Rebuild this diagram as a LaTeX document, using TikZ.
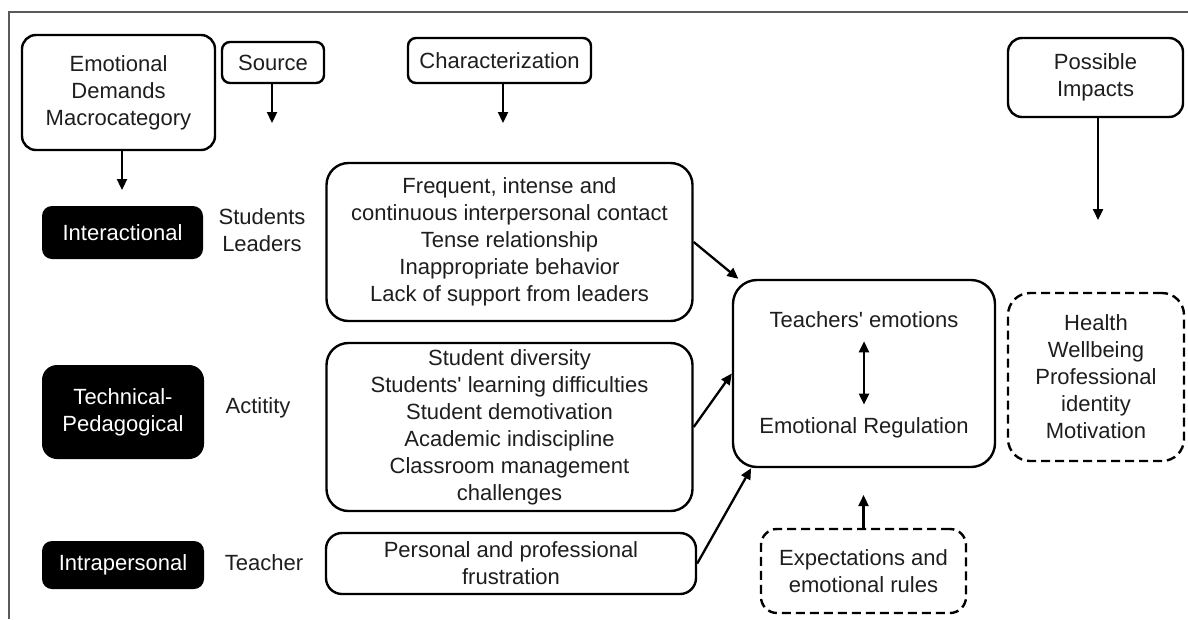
\documentclass[tikz,border=0pt]{standalone}
\usepackage{fontspec}
\setmainfont{Liberation Sans}
\usetikzlibrary{arrows.meta}
\definecolor{ink}{HTML}{1E1E1E}
\definecolor{framegray}{HTML}{5A5A5A}
\begin{document}
\begin{tikzpicture}[x=1pt,y=-1pt,
  every node/.style={font=\fontsize{22}{27}\selectfont, text=ink, align=center, inner sep=0pt},
  box/.style={draw=black, line width=2.4pt, rounded corners=14pt},
  darkbox/.style={fill=black, text=white, rounded corners=10pt},
  dbox/.style={box, dash pattern=on 9pt off 5pt},
  arr/.style={line width=2.3pt, -{Triangle[length=11pt,width=10pt]}},
  biarr/.style={line width=2.3pt, {Triangle[length=11pt,width=10pt]}-{Triangle[length=11pt,width=10pt]}}
]
\useasboundingbox (0,0) rectangle (1188,619);
\fill[white] (0,0) rectangle (1188,619);

% frame lines
\draw[framegray, line width=2pt] (9,619) -- (9,12) -- (1188,12);

% column headers
\node[box, minimum width=193pt, minimum height=115pt] (macro) at (118.5,92.5)
  {Emotional\\Demands\\Macrocategory};
\node[box, rounded corners=8pt, minimum width=102pt, minimum height=41pt] (source) at (273,62.5) {Source};
\node[box, rounded corners=8pt, minimum width=183pt, minimum height=45pt] (charac) at (499.5,60.5) {Characterization};
\node[box, minimum width=175pt, minimum height=79pt] (impacts) at (1095.5,77.5) {Possible\\Impacts};

\coordinate (macroEnd) at (122,190);
\coordinate (sourceEnd) at (272,123);
\coordinate (characEnd) at (503,123);
\coordinate (impactsEnd) at (1098,220);
\draw[arr] (macro.south -| macroEnd) -- (macroEnd);
\draw[arr] (source.south -| sourceEnd) -- (sourceEnd);
\draw[arr] (charac.south -| characEnd) -- (characEnd);
\draw[arr] (impacts.south -| impactsEnd) -- (impactsEnd);

% macrocategories
\node[darkbox, minimum width=161pt, minimum height=53pt] (inter) at (122.5,232.5) {Interactional};
\node[darkbox, rounded corners=15pt, minimum width=162pt, minimum height=94pt] (tech) at (123,412) {Technical-\\Pedagogical};
\node[darkbox, minimum width=162pt, minimum height=48pt] (intra) at (123,565) {Intrapersonal};

% sources
\node (srcA) at (262,230) {Students\\Leaders};
\node (srcB) at (258,408) {Actitity};
\node (srcC) at (264,563) {Teacher};

% characterizations
\node[box, rounded corners=22pt, minimum width=366pt, minimum height=158pt] (ch1) at (509.5,242)
  {Frequent, intense and\\continuous interpersonal contact\\Tense relationship\\Inappropriate behavior\\Lack of support from leaders};
\node[box, rounded corners=22pt, minimum width=366pt, minimum height=168pt] (ch2) at (509.5,427)
  {Student diversity\\Students\textquotesingle{} learning difficulties\\Student demotivation\\Academic indiscipline\\Classroom management\\challenges};
\node[box, rounded corners=16pt, minimum width=370pt, minimum height=61pt] (ch3) at (511,563.5)
  {Personal and professional\\frustration};

% central box
\node[box, rounded corners=24pt, minimum width=262pt, minimum height=187pt] (core) at (864,373.5) {};
\node (emo) at (864,320) {Teachers\textquotesingle{} emotions};
\node (reg) at (864,428) {Emotional Regulation};
\draw[biarr, shorten <=13pt, shorten >=13pt] (emo.south) -- (reg.north);

% impacts and rules
\node[dbox, rounded corners=22pt, minimum width=176pt, minimum height=168pt] (health) at (1096,377)
  {Health\\Wellbeing\\Professional\\identity\\Motivation};
\node[dbox, rounded corners=16pt, minimum width=205pt, minimum height=84pt] (rules) at (863.5,571)
  {Expectations and\\emotional rules};
\coordinate (rulesEnd) at (863.5,495);
\draw[arr] (rules.north) -- (rulesEnd);

% links into the central box
\draw[arr] (ch1.east) -- (core.143);
\draw[arr] (ch2.east) -- (core.west);
\draw[arr] (ch3.east) -- (core.220);
\end{tikzpicture}
\end{document}
